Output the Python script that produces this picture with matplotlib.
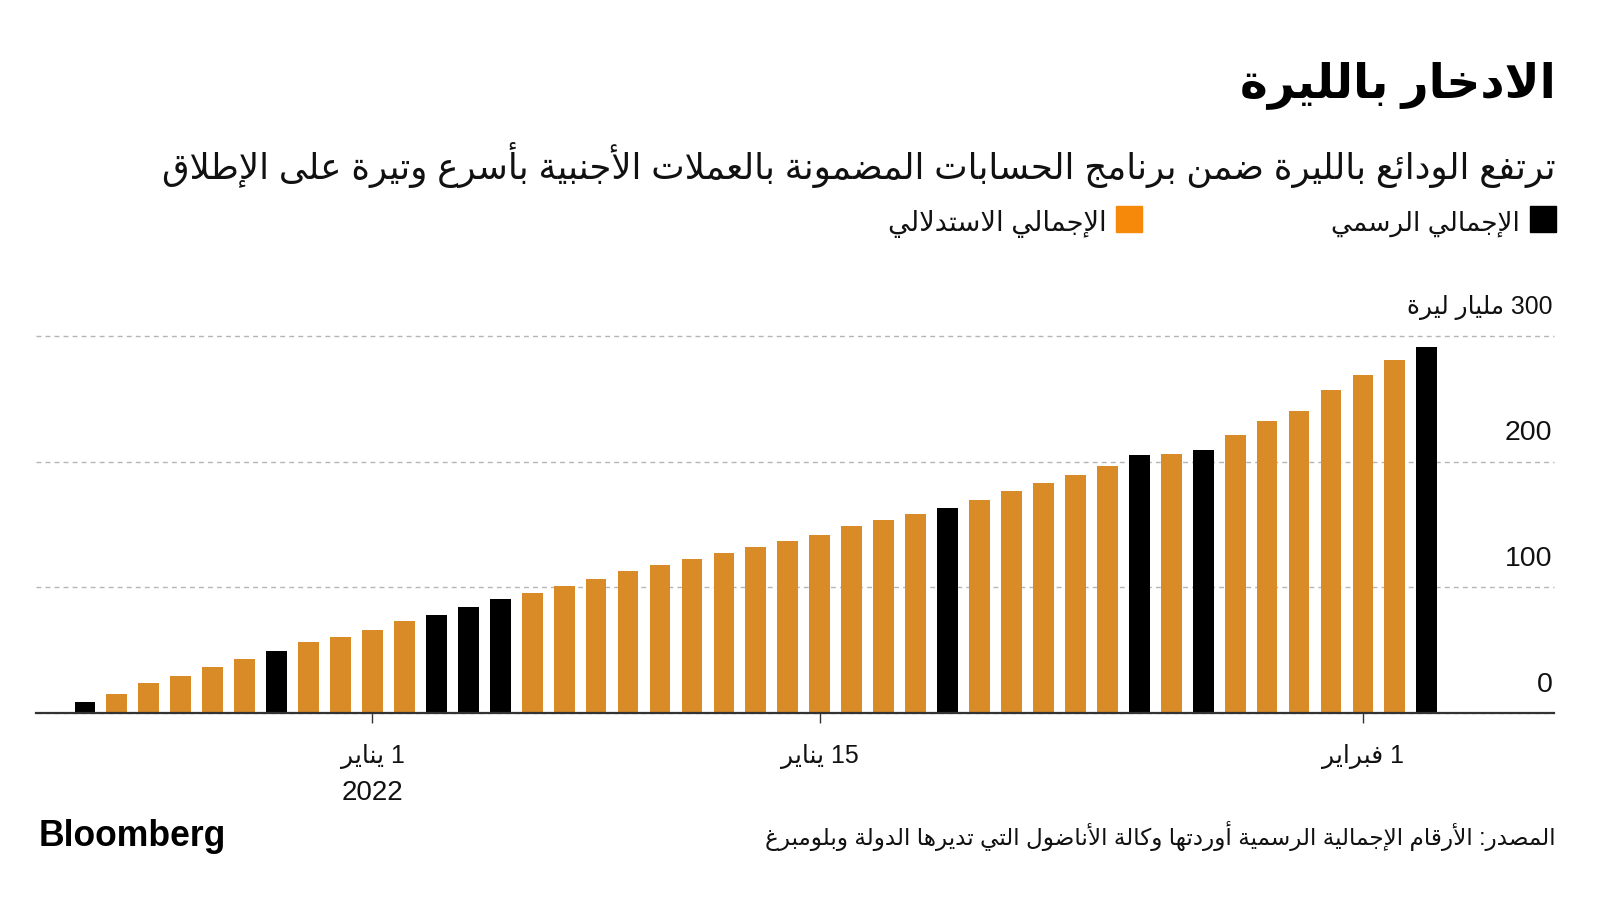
import re
import matplotlib
matplotlib.use("Agg")
import matplotlib.pyplot as plt
import matplotlib.dates as mdates
import pandas as pd

# ---------------- data ----------------
dates = pd.date_range("2021-12-23", "2022-02-03", freq="D")
values = [8.8, 14.9, 23.7, 29.6, 36.3, 42.9, 49.6, 56.3, 60.8, 66.4,
          73.6, 77.6, 84.3, 90.9, 95.7, 100.8, 106.9, 112.8, 117.6, 122.4,
          127.7, 132.3, 136.8, 141.6, 148.8, 153.6, 158.1, 163.5, 169.6, 176.8,
          182.9, 189.6, 196.3, 205.1, 206.4, 209.6, 221.1, 232.0, 240.0, 256.8,
          268.8, 281.0, 291.5]
official_dates = ["2021-12-23", "2021-12-29", "2022-01-03", "2022-01-04",
                  "2022-01-05", "2022-01-19", "2022-01-25", "2022-01-27",
                  "2022-02-03"]
yticks = [0, 100, 200, 300]
ytick_labels = ["0", "100", "200", "300 مليار ليرة"]
tick_dates = ["2022-01-01", "2022-01-15", "2022-02-01"]
tick_labels = ["1 يناير", "15 يناير", "1 فبراير"]
year_label = "2022"
title = "الادخار بالليرة"
subtitle = "ترتفع الودائع بالليرة ضمن برنامج الحسابات المضمونة بالعملات الأجنبية بأسرع وتيرة على الإطلاق"
legend_labels = ["الإجمالي الرسمي", "الإجمالي الاستدلالي"]
source = "المصدر: الأرقام الإجمالية الرسمية أوردتها وكالة الأناضول التي تديرها الدولة وبلومبرغ"
brand = "Bloomberg"

# ---------------- Arabic shaping (presentation forms + visual order) ----------------
RIGHT = {0x0622: 0xFE81, 0x0623: 0xFE83, 0x0624: 0xFE85, 0x0625: 0xFE87,
         0x0627: 0xFE8D, 0x0629: 0xFE93, 0x062F: 0xFEA9, 0x0630: 0xFEAB,
         0x0631: 0xFEAD, 0x0632: 0xFEAF, 0x0648: 0xFEED, 0x0649: 0xFEEF}
DUAL = {0x0626: 0xFE89, 0x0628: 0xFE8F, 0x062A: 0xFE95, 0x062B: 0xFE99,
        0x062C: 0xFE9D, 0x062D: 0xFEA1, 0x062E: 0xFEA5, 0x0633: 0xFEB1,
        0x0634: 0xFEB5, 0x0635: 0xFEB9, 0x0636: 0xFEBD, 0x0637: 0xFEC1,
        0x0638: 0xFEC5, 0x0639: 0xFEC9, 0x063A: 0xFECD, 0x0641: 0xFED1,
        0x0642: 0xFED5, 0x0643: 0xFED9, 0x0644: 0xFEDD, 0x0645: 0xFEE1,
        0x0646: 0xFEE5, 0x0647: 0xFEE9, 0x064A: 0xFEF1}
NONJ = {0x0621: 0xFE80}
LAM_ALEF = {0x0622: 0xFEF5, 0x0623: 0xFEF7, 0x0625: 0xFEF9, 0x0627: 0xFEFB}


def ar(s):
    units = []
    i = 0
    while i < len(s):
        c = ord(s[i])
        if c == 0x0644 and i + 1 < len(s) and ord(s[i + 1]) in LAM_ALEF:
            units.append(("R", LAM_ALEF[ord(s[i + 1])]))
            i += 2
            continue
        if c in DUAL:
            units.append(("D", DUAL[c]))
        elif c in RIGHT:
            units.append(("R", RIGHT[c]))
        elif c in NONJ:
            units.append(("U", NONJ[c]))
        else:
            units.append(("X", s[i]))
        i += 1
    out = []
    for k, (t, v) in enumerate(units):
        if t == "X":
            out.append(v)
            continue
        if t == "U":
            out.append(chr(v))
            continue
        pj = k > 0 and units[k - 1][0] == "D"
        nj = t == "D" and k + 1 < len(units) and units[k + 1][0] in "DR"
        if t == "R":
            out.append(chr(v + (1 if pj else 0)))
        else:
            off = 3 if (pj and nj) else 1 if pj else 2 if nj else 0
            out.append(chr(v + off))
    shaped = "".join(out)
    toks = re.findall(r"[0-9A-Za-z]+|[^0-9A-Za-z]+", shaped)
    return "".join(tk if re.match(r"[0-9A-Za-z]", tk) else tk[::-1]
                   for tk in reversed(toks))


# ---------------- figure ----------------
W, H = 1600, 900
fig = plt.figure(figsize=(16, 9), dpi=100)
fig.patch.set_facecolor("white")
FAM = ["Liberation Sans", "DejaVu Sans"]
plt.rcParams["font.family"] = FAM


def fx(x):
    return x / W


def fy(y):
    return 1 - y / H


ax_l, ax_r, ax_b, ax_t = 36, 1554, 713, 336
ax = fig.add_axes([fx(ax_l), fy(ax_b), (ax_r - ax_l) / W, (ax_b - ax_t) / H])

ORANGE_BAR = "#D98B28"
ORANGE_LEG = "#F7890A"
BLACK = "#000000"
official = set(pd.to_datetime(official_dates))
colors = [BLACK if d in official else ORANGE_BAR for d in dates]
xnum = mdates.date2num(dates.to_pydatetime())
ax.bar(xnum, values, width=0.65, color=colors, zorder=3)
ax.xaxis_date()

x0 = xnum[0]
ax.set_xlim(x0 - 1.53, x0 + 45.98)
ax.set_ylim(0, 300)
ax.set_yticks(yticks)
ax.yaxis.grid(True, color="#b5b5b5", linestyle=(0, (3.5, 3)), linewidth=1.0, zorder=0)
for gl in ax.get_ygridlines():
    gl.set_clip_on(False)
ax.tick_params(axis="y", length=0, labelleft=False)
for sp in ["top", "left", "right"]:
    ax.spines[sp].set_visible(False)
ax.spines["bottom"].set_color("#333333")
ax.spines["bottom"].set_linewidth(1.6)
ax.spines["bottom"].set_zorder(4)

tnum = mdates.date2num(pd.to_datetime(tick_dates).to_pydatetime())
ax.set_xticks(tnum)
ax.set_xticklabels([])
ax.tick_params(axis="x", length=7.5, width=1.0, color="#333333")

# y labels above gridlines
ytr = ax.get_yaxis_transform()
ylab_texts = []
for v, lab in zip(yticks, ytick_labels):
    t = ax.annotate(ar(lab), xy=(0.999, v), xycoords=ytr, xytext=(0, 20.5),
                    textcoords="offset points", ha="right", va="center",
                    fontsize=20.5, color="#111111", family=FAM,
                    annotation_clip=False)
    ylab_texts.append(t)

# x labels
xtr = ax.get_xaxis_transform()
for d, lab in zip(tnum, tick_labels):
    ax.annotate(ar(lab), xy=(d, 0), xycoords=xtr, xytext=(0, -31),
                textcoords="offset points", ha="center", va="center",
                fontsize=18, color="#111111", family=FAM, annotation_clip=False)
ax.annotate(year_label, xy=(tnum[0], 0), xycoords=xtr,
            xytext=(0, -57.5), textcoords="offset points", ha="center",
            va="center", fontsize=20, color="#111111", family=FAM,
            annotation_clip=False)

# titles and texts
t_title = fig.text(fx(1556), fy(85), ar(title), ha="right", va="center",
                   fontsize=36, fontweight="bold", color="#000000", family=FAM)
t_sub = fig.text(fx(1556), fy(165), ar(subtitle), ha="right", va="center",
                 fontsize=22, color="#111111", family=FAM)

# legend
fig.patches.append(plt.Rectangle((fx(1530), fy(232)), 26 / W, 26 / H,
                                 transform=fig.transFigure, color=BLACK))
fig.patches.append(plt.Rectangle((fx(1116), fy(232)), 26 / W, 26 / H,
                                 transform=fig.transFigure, color=ORANGE_LEG))
t_l1 = fig.text(fx(1520), fy(224), ar(legend_labels[0]), ha="right", va="center",
                fontsize=18, color="#111111", family=FAM)
t_l2 = fig.text(fx(1107), fy(224), ar(legend_labels[1]), ha="right", va="center",
                fontsize=18, color="#111111", family=FAM)

# footer
t_brand = fig.text(fx(39), fy(837), brand, ha="left", va="center",
                   fontsize=24, fontweight="bold", color="#000000",
                   family=["Liberation Sans", "DejaVu Sans"])
t_src = fig.text(fx(1556), fy(836), ar(source), ha="right", va="center",
                 fontsize=16, color="#111111", family=FAM)

# fit text widths to reference layout
fig.canvas.draw()
rend = fig.canvas.get_renderer()
for t, target in [(t_title, 316), (t_sub, 1396), (t_l1, 189), (t_l2, 219),
                  (t_brand, 188), (t_src, 794), (ylab_texts[-1], 145)]:
    w = t.get_window_extent(rend).width
    if w > 0:
        t.set_fontsize(t.get_fontsize() * target / w)

fig.savefig("out.png", dpi=100, facecolor="white")
